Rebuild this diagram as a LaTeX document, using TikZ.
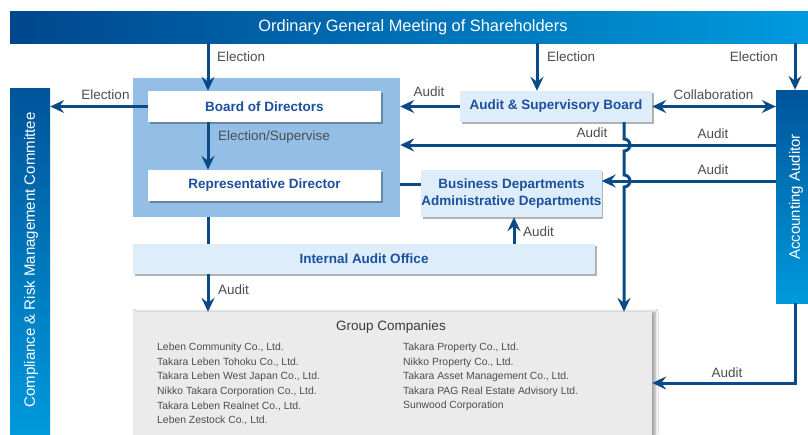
\documentclass[tikz,border=0pt]{standalone}
\usepackage{fontspec}
\setmainfont{Liberation Sans}
\usetikzlibrary{arrows.meta,shadows,shadows.blur}

\definecolor{navy}{HTML}{0A4B87}
\definecolor{barDark}{HTML}{00549A}
\definecolor{barLight}{HTML}{009ADD}
\definecolor{headDark}{HTML}{00468C}
\definecolor{headLight}{HTML}{009BDF}
\definecolor{regionblue}{HTML}{93BFE6}
\definecolor{pale}{HTML}{DDEEFA}
\definecolor{boxblue}{HTML}{1E4F9E}
\definecolor{labelgray}{HTML}{4D4D4D}
\definecolor{groupfill}{HTML}{EBEBEB}
\definecolor{grouptext}{HTML}{3A3A3A}

\tikzset{
  lbl/.style={text=labelgray, font=\fontsize{13.5}{16}\selectfont, inner sep=0pt},
  boxtext/.style={text=boxblue, font=\bfseries\fontsize{13.5}{17.7}\selectfont, inner sep=0pt},
  whitebox/.style={boxtext, fill=white,
    drop shadow={shadow xshift=1.5pt, shadow yshift=-1.5pt, fill=black, opacity=0.3}},
  palebox/.style={whitebox, fill=pale},
  sidebar/.style={top color=barDark, bottom color=barLight, inner sep=0pt},
  sidetext/.style={text=white, font=\fontsize{15}{18}\selectfont, rotate=90, inner sep=0pt},
  arr/.style={draw=navy, line width=3pt, -{Stealth[length=14pt,width=13pt,inset=5pt]}},
  dblarr/.style={draw=navy, line width=3pt, {Stealth[length=14pt,width=13pt,inset=5pt]}-{Stealth[length=14pt,width=13pt,inset=5pt]}},
  conn/.style={draw=navy, line width=3pt},
  grpitem/.style={text=labelgray, font=\fontsize{10.4}{12}\selectfont, inner sep=0pt, anchor=west},
}

\begin{document}
\begin{tikzpicture}[x=1pt, y=-1pt]
  \useasboundingbox (0,0) rectangle (808,434);
  \clip (0,0) rectangle (808,434);
  \fill[white] (0,0) rectangle (808,434);

  % shareholders' meeting banner
  \node[left color=headDark, right color=headLight, minimum width=806pt, minimum height=32pt,
        inner sep=0pt, text=white, font=\fontsize{16.4}{19}\selectfont] (gm) at (413,27)
        {Ordinary General Meeting of Shareholders};

  % side committees
  \node[sidebar, minimum width=40pt, minimum height=352pt] (crm) at (30,264) {};
  \node[sidetext] (crmt) at (31,260) {Compliance \& Risk Management Committee};
  \node[sidebar, minimum width=40pt, minimum height=213pt] (aa) at (796,196.5) {};
  \node[sidetext] (aat) at (796,197) {Accounting Auditor};

  % board area
  \node[fill=regionblue, minimum width=267pt, minimum height=139pt, inner sep=0pt] (reg) at (266.5,147.5) {};
  \node[whitebox, minimum width=233pt, minimum height=31pt] (bod) at (264.5,106.5) {Board of Directors};
  \node[whitebox, minimum width=233pt, minimum height=31pt] (rd) at (264.5,185.5) {Representative Director};

  \node[palebox, minimum width=192pt, minimum height=31pt] (asb) at (556,106.5) {Audit \& Supervisory Board};
  \node[palebox, minimum width=177pt, minimum height=47pt, align=center] (bad) at (511.5,193.5)
        {Business Departments\\Administrative Departments};
  \node[palebox, minimum width=462pt, minimum height=30pt] (iao) at (364,259) {Internal Audit Office};

  % group companies
  \node[fill=groupfill, minimum width=519pt, minimum height=130pt, inner sep=0pt,
        blur shadow={shadow xshift=3pt, shadow yshift=0pt, shadow blur radius=3pt, shadow opacity=40}]
        (grp) at (392.5,377) {};
  \node[text=grouptext, font=\fontsize{13.5}{16}\selectfont, inner sep=0pt] (gt) at (391,327) {Group Companies};
  \node[grpitem] (gl1) at (157,348)   {Leben Community Co., Ltd.};
  \node[grpitem] (gl2) at (157,362.5) {Takara Leben Tohoku Co., Ltd.};
  \node[grpitem] (gl3) at (157,377)   {Takara Leben West Japan Co., Ltd.};
  \node[grpitem] (gl4) at (157,391.5) {Nikko Takara Corporation Co., Ltd.};
  \node[grpitem] (gl5) at (157,406)   {Takara Leben Realnet Co., Ltd.};
  \node[grpitem] (gl6) at (157,420.5) {Leben Zestock Co., Ltd.};
  \node[grpitem] (gr1) at (403,348)   {Takara Property Co., Ltd.};
  \node[grpitem] (gr2) at (403,362.5) {Nikko Property Co., Ltd.};
  \node[grpitem] (gr3) at (403,377)   {Takara Asset Management Co., Ltd.};
  \node[grpitem] (gr4) at (403,391.5) {Takara PAG Real Estate Advisory Ltd.};
  \node[grpitem] (gr5) at (403,406)   {Sunwood Corporation};

  % guide coordinates for connector columns and rows
  \coordinate (xa) at (208,0);
  \coordinate (xb) at (537,0);
  \coordinate (xc) at (795,0);
  \coordinate (xd) at (624,0);
  \coordinate (xe) at (514,0);
  \coordinate (ya) at (0,145);
  \coordinate (yb) at (0,181);
  \coordinate (yc) at (0,184);
  \coordinate (yd) at (0,383);

  % connectors
  \draw[arr] (xa |- gm.south) -- (xa |- bod.north);
  \draw[arr] (xb |- gm.south) -- (xb |- asb.north);
  \draw[arr] (xc |- gm.south) -- (xc |- aa.north);
  \draw[arr] (bod.west) -- (crm.east |- bod.west);
  \draw[arr] (xa |- bod.south) -- (xa |- rd.north);
  \draw[arr] (asb.west) -- (reg.east |- asb.west);
  \draw[dblarr] (asb.east) -- (aa.west |- asb.east);
  \draw[arr] (aa.west |- ya) -- (reg.east |- ya);
  \draw[arr] (aa.west |- yb) -- (bad.east |- yb);
  \draw[conn] (reg.east |- yc) -- (bad.west |- yc);
  \draw[conn] (xa |- reg.south) -- (xa |- iao.north);
  \draw[arr] (xe |- iao.north) -- (xe |- bad.south);
  \draw[arr] (xa |- iao.south) -- (xa |- grp.north);
  \draw[arr] (xd |- asb.south) -- ([yshift=6pt]xd |- ya)
        arc[start angle=90, end angle=-90, radius=6pt]
        -- ([yshift=6pt]xd |- yb)
        arc[start angle=90, end angle=-90, radius=6pt]
        -- (xd |- grp.north);
  \draw[arr] (xc |- aa.south) -- (xc |- yd) -- (grp.east |- yd);

  % connector labels
  \node[lbl, anchor=west] (l1) at (217,57) {Election};
  \node[lbl, anchor=west] (l2) at (547,57) {Election};
  \node[lbl, anchor=east] (l3) at (778,57) {Election};
  \node[lbl] (l4) at (105.5,95) {Election};
  \node[lbl, anchor=west] (l5) at (218,137) {Election/Supervise};
  \node[lbl] (l6) at (429,92) {Audit};
  \node[lbl] (l7) at (713.5,95) {Collaboration};
  \node[lbl] (l8) at (592,133) {Audit};
  \node[lbl] (l9) at (713,134) {Audit};
  \node[lbl] (l10) at (713,170) {Audit};
  \node[lbl, anchor=west] (l11) at (523,232) {Audit};
  \node[lbl, anchor=west] (l12) at (218,290) {Audit};
  \node[lbl] (l13) at (727,373) {Audit};
\end{tikzpicture}
\end{document}
